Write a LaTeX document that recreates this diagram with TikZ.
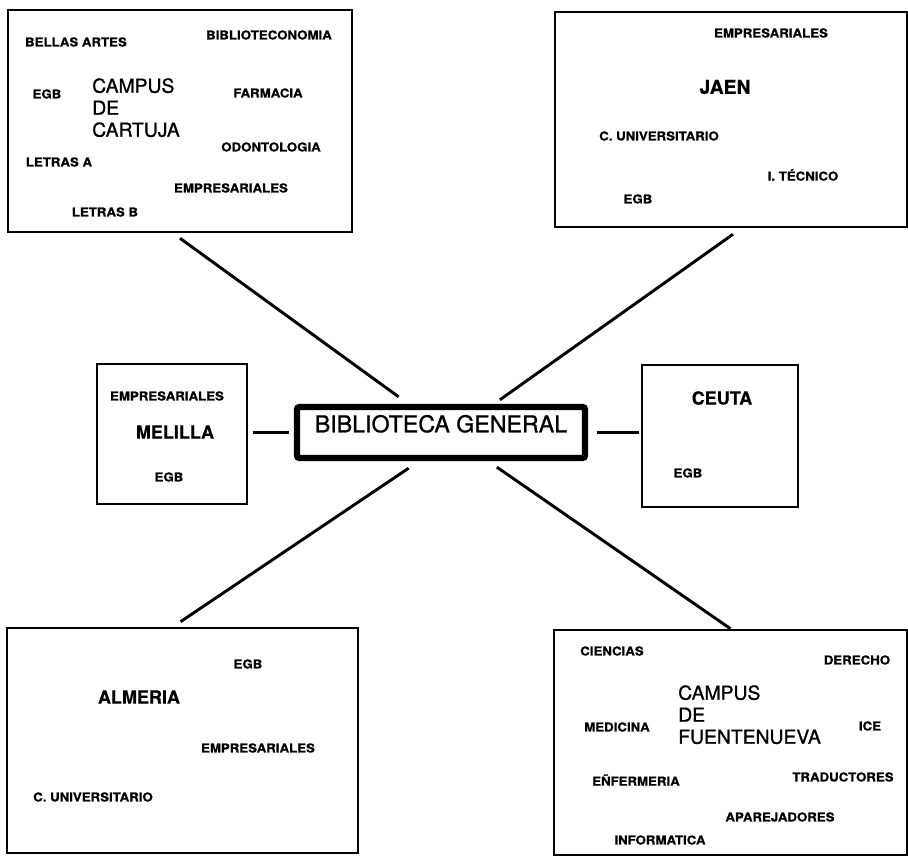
\documentclass[tikz,border=0pt]{standalone}
\usepackage{fontspec}
\setmainfont{TeX Gyre Heros}
\newfontfamily\labfont[FakeStretch=1.08,FakeBold=0.8]{TeX Gyre Heros}
\newfontfamily\medfont[FakeBold=1.0]{TeX Gyre Heros}
\newfontfamily\cityfont[FakeBold=0.6]{TeX Gyre Heros}
\usetikzlibrary{calc,fit}
\begin{document}
\begin{tikzpicture}[x=0.75pt,y=-0.75pt,
  campbox/.style={draw, line width=1.9pt, inner sep=0pt},
  centralbox/.style={draw, line width=4.8pt, rounded corners=2pt, inner sep=0pt,
     font=\medfont\fontsize{17.4}{19}\selectfont},
  lab/.style={font=\labfont\bfseries\fontsize{9.2}{10}\selectfont, inner sep=0pt},
  bigname/.style={font=\medfont\fontsize{14.5}{16.5}\selectfont, align=left, inner sep=0pt, anchor=north west},
  city/.style={font=\cityfont\bfseries\fontsize{13.5}{15}\selectfont, inner sep=0pt},
  link/.style={line width=2.2pt}]
\useasboundingbox[fill=white] (0,0) rectangle (908,856);

% boxes
\node[campbox, fit={(8,10) (352,232)}] (cart) {};
\node[campbox, fit={(555,12) (907,227)}] (jaen) {};
\node[campbox, fit={(97,364) (247,504)}] (mel) {};
\node[campbox, fit={(642,365) (798,507)}] (ceuta) {};
\node[campbox, fit={(7,628) (358,853)}] (alm) {};
\node[campbox, fit={(554,630) (907,855)}] (fuente) {};
\node[centralbox, fit={(297,407) (585,458)}] (bg) {BIBLIOTECA GENERAL};

% connectors
\draw[link] ($(cart.south)+(0,5)$) -- ($(bg.north west)!0.356!(bg.north east)+(0,-7)$);
\draw[link] ($(jaen.south)+(2,6)$) -- ($(bg.north west)!0.70!(bg.north east)+(0,-4)$);
\draw[link] ($(mel.east |- bg.west)+(5,0)$) -- ($(bg.west)+(-5,0)$);
\draw[link] ($(bg.east)+(9,0)$) -- ($(ceuta.west |- bg.east)+(-2,0)$);
\draw[link] ($(bg.south west)!0.39!(bg.south east)+(0,7)$) -- ($(alm.north)+(-2,-5)$);
\draw[link] ($(bg.south west)!0.69!(bg.south east)+(0,6)$) -- ($(fuente.north)+(0,0)$);

% Cartuja
\node[lab] (c1) at (76,42) {BELLAS ARTES};
\node[lab] (c2) at (269,35) {BIBLIOTECONOMIA};
\node[lab] (c3) at (47,94) {EGB};
\node[bigname] (c4) at (92,78) {CAMPUS\\DE\\CARTUJA};
\node[lab] (c5) at (268,93) {FARMACIA};
\node[lab] (c6) at (271,147) {ODONTOLOGIA};
\node[lab] (c7) at (59,162) {LETRAS A};
\node[lab] (c8) at (231,188) {EMPRESARIALES};
\node[lab] (c9) at (105,212) {LETRAS B};

% Jaen
\node[lab] (j1) at (771,33) {EMPRESARIALES};
\node[city, font=\cityfont\bfseries\fontsize{14.5}{16}\selectfont] (j2) at (725,87) {JAEN};
\node[lab] (j3) at (659,136) {C. UNIVERSITARIO};
\node[lab] (j4) at (803,175) {I. TÉCNICO};
\node[lab] (j5) at (638,199) {EGB};

% Melilla
\node[lab] (m1) at (167,396) {EMPRESARIALES};
\node[city] (m2) at (175,432) {MELILLA};
\node[lab] (m3) at (169,477) {EGB};

% Ceuta
\node[city] (ce1) at (722,398) {CEUTA};
\node[lab] (ce2) at (688,473) {EGB};

% Almeria
\node[lab] (a1) at (248,664) {EGB};
\node[city] (a2) at (139,697) {ALMERIA};
\node[lab] (a3) at (258,748) {EMPRESARIALES};
\node[lab] (a4) at (93,797) {C. UNIVERSITARIO};

% Fuentenueva
\node[lab] (f1) at (612,651) {CIENCIAS};
\node[lab] (f2) at (857,660) {DERECHO};
\node[bigname] (f3) at (678,685) {CAMPUS\\DE\\FUENTENUEVA};
\node[lab] (f4) at (617,727) {MEDICINA};
\node[lab] (f5) at (870,726) {ICE};
\node[lab] (f6) at (636,780) {EÑFERMERIA};
\node[lab] (f7) at (843,777) {TRADUCTORES};
\node[lab] (f8) at (780,817) {APAREJADORES};
\node[lab] (f9) at (660,840) {INFORMATICA};
\end{tikzpicture}
\end{document}
